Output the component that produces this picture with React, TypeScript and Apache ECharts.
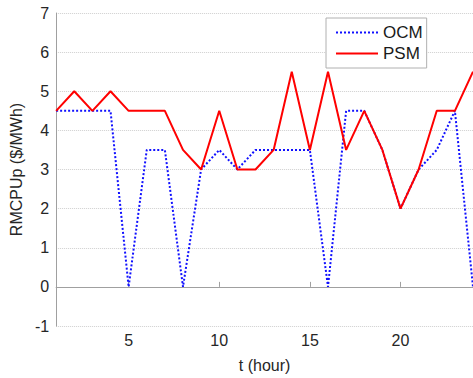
import React, { useEffect, useRef } from "react";
import * as echarts from "echarts";

const hours = [1, 2, 3, 4, 5, 6, 7, 8, 9, 10, 11, 12, 13, 14, 15, 16, 17, 18, 19, 20, 21, 22, 23, 24];
const ocm = [4.5, 4.5, 4.5, 4.5, 0, 3.5, 3.5, 0, 3, 3.5, 3, 3.5, 3.5, 3.5, 3.5, 0, 4.5, 4.5, 3.5, 2, 3, 3.5, 4.5, 0];
const psm = [4.5, 5, 4.5, 5, 4.5, 4.5, 4.5, 3.5, 3, 4.5, 3, 3, 3.5, 5.5, 3.5, 5.5, 3.5, 4.5, 3.5, 2, 3, 4.5, 4.5, 5.5];
const xTicks = [5, 10, 15, 20];

const FONT = "Liberation Sans, Arial, sans-serif";

export default function App() {
  const ref = useRef<HTMLDivElement>(null);
  useEffect(() => {
    document.body.style.margin = "0";
    const chart = echarts.init(ref.current!, null, { renderer: "svg" });
    chart.setOption({
      animation: false,
      backgroundColor: "#ffffff",
      grid: { left: 52, right: -1, top: 13, bottom: 44, containLabel: false },
      legend: {
        orient: "vertical",
        left: 326,
        top: 18,
        padding: [6, 4, 6, 9],
        itemGap: 4,
        itemWidth: 42,
        itemHeight: 14,
        backgroundColor: "#ffffff",
        borderColor: "#b0b0b0",
        borderWidth: 1,
        borderRadius: 0,
        itemStyle: { opacity: 0 },
        textStyle: { fontFamily: FONT, fontSize: 17, color: "#1a1a1a" },
        data: ["OCM", "PSM"],
      },
      xAxis: {
        type: "value",
        min: 1,
        max: 24,
        name: "t (hour)",
        nameLocation: "middle",
        nameGap: 31,
        nameTextStyle: { fontFamily: FONT, fontSize: 16, color: "#262626" },
        axisLine: { show: true, lineStyle: { color: "#a0a0a0", width: 1 } },
        axisTick: { show: true, inside: true, length: 5, customValues: xTicks, lineStyle: { color: "#a0a0a0" } },
        axisLabel: { customValues: xTicks, fontFamily: FONT, fontSize: 16, color: "#262626", margin: 6 },
        splitLine: { show: false },
      },
      yAxis: {
        type: "value",
        min: -1,
        max: 7,
        interval: 1,
        name: "RMCPUp ($/MWh)",
        nameLocation: "middle",
        nameGap: 30,
        nameTextStyle: { fontFamily: FONT, fontSize: 16, color: "#262626" },
        axisLine: { show: true, lineStyle: { color: "#a0a0a0", width: 1 } },
        axisTick: { show: false },
        axisLabel: { fontFamily: FONT, fontSize: 16, color: "#262626", margin: 7 },
        splitLine: { show: true, lineStyle: { color: "#cfcfcf", type: "dotted", width: 1 } },
      },
      series: [
        {
          name: "OCM",
          type: "line",
          data: hours.map((h, i) => [h, ocm[i]]),
          symbol: "none",
          color: "#1010ff",
          lineStyle: { color: "#1010ff", width: 2, type: [2, 2] },
          z: 2,
        },
        {
          name: "PSM",
          type: "line",
          data: hours.map((h, i) => [h, psm[i]]),
          symbol: "none",
          color: "#ff0000",
          lineStyle: { color: "#ff0000", width: 2, type: "solid" },
          z: 3,
        },
      ],
    });
    return () => chart.dispose();
  }, []);
  return <div ref={ref} style={{ width: 473, height: 378 }} />;
}
